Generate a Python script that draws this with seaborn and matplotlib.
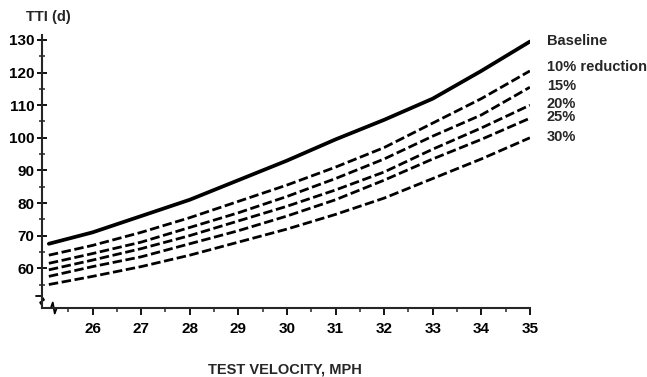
import numpy as np
import pandas as pd
import seaborn as sns
import matplotlib.pyplot as plt

# values
velocity = [25.1, 26, 27, 28, 29, 30, 31, 32, 33, 34, 35]
baseline = [67.5, 71, 76, 81, 87, 93, 99.5, 105.5, 112, 120.5, 129.5]
red10 = [64, 67, 71, 75.5, 80.5, 85.5, 91, 97, 104.5, 112, 120.5]
red15 = [61.5, 64.5, 68, 72.5, 77, 82, 87.5, 93.5, 100.5, 107, 115.5]
red20 = [59.5, 62.5, 66, 70, 74.5, 79, 84, 89.5, 96.5, 103, 110]
red25 = [57.5, 60.5, 63.5, 67.5, 71.5, 76, 81, 87, 93.5, 99.5, 106]
red30 = [55, 57.5, 60.5, 64, 68, 72, 76.5, 81.5, 87.5, 93.5, 100]
names = ["Baseline", "10% reduction", "15%", "20%", "25%", "30%"]
series = [baseline, red10, red15, red20, red25, red30]

df = pd.DataFrame({
    "v": np.tile(velocity, len(names)),
    "tti": np.concatenate(series),
    "case": np.repeat(names, len(velocity)),
})

sns.set_style("ticks")
plt.rcParams['font.family'] = ['Liberation Sans', 'DejaVu Sans']
plt.rcParams['font.weight'] = 'bold'

fig = plt.figure(figsize=(6.47, 3.77), dpi=100)
ax = fig.add_axes([0.065, 0.183, 0.754, 0.724])

dashes = {n: (3.4, 1.3) for n in names}
dashes["Baseline"] = ""
sns.lineplot(data=df, x="v", y="tti", hue="case", style="case",
             palette=["black"] * len(names), dashes=dashes,
             legend=False, ax=ax, linewidth=2.0)
ax.lines[0].set_linewidth(2.7)

# labels at the right end of each line
for n, s in zip(names, series):
    off = 1.2 if n == "10% reduction" else 0.3
    ax.text(35.35, s[-1] + off, n, fontsize=10.5, fontweight='bold',
            va='center', ha='left', clip_on=False)

ax.set_xlim(24.96, 35.0)
ax.set_ylim(47.8, 131.5)
ax.set_xticks(range(26, 36))
ax.set_xticks(np.arange(25.5, 35, 1.0), minor=True)
ax.set_yticks(range(60, 131, 10))
ax.set_yticks(range(55, 131, 10), minor=True)
ax.tick_params(axis='both', labelsize=11, width=1.3, colors='black')
ax.tick_params(axis='y', which='major', direction='inout', length=7, pad=2)
ax.tick_params(axis='y', which='minor', direction='inout', length=4, width=1.1)
ax.tick_params(axis='x', which='major', direction='out', length=5, pad=5)
ax.tick_params(axis='x', which='minor', direction='out', length=3, width=1.1)
for lab in ax.get_xticklabels() + ax.get_yticklabels():
    lab.set_fontweight('bold')

sns.despine(ax=ax)
ax.spines['left'].set_linewidth(1.5)
ax.spines['bottom'].set_linewidth(1.5)

# axis break marks
ax.plot([-0.012, 0.0], [0.045, 0.045], transform=ax.transAxes,
        color='black', lw=1.3, clip_on=False)
ax.plot([0.0, 0.004, -0.004, 0.0], [0.04, 0.03, 0.02, 0.01],
        transform=ax.transAxes, color='black', lw=1.3, clip_on=False)
ax.plot([0.018, 0.022, 0.026, 0.030], [0.0, 0.02, -0.02, 0.0],
        transform=ax.transAxes, color='black', lw=1.3, clip_on=False)

ax.set_xlabel("")
ax.set_ylabel("")
fig.text(0.44, 0.02, "TEST VELOCITY, MPH", fontsize=10.5, fontweight='bold',
         ha='center', va='center')
fig.text(0.04, 0.955, "TTI (d)", fontsize=10.5, fontweight='bold', ha='left', va='center')

fig.savefig("out.png", dpi=100)
